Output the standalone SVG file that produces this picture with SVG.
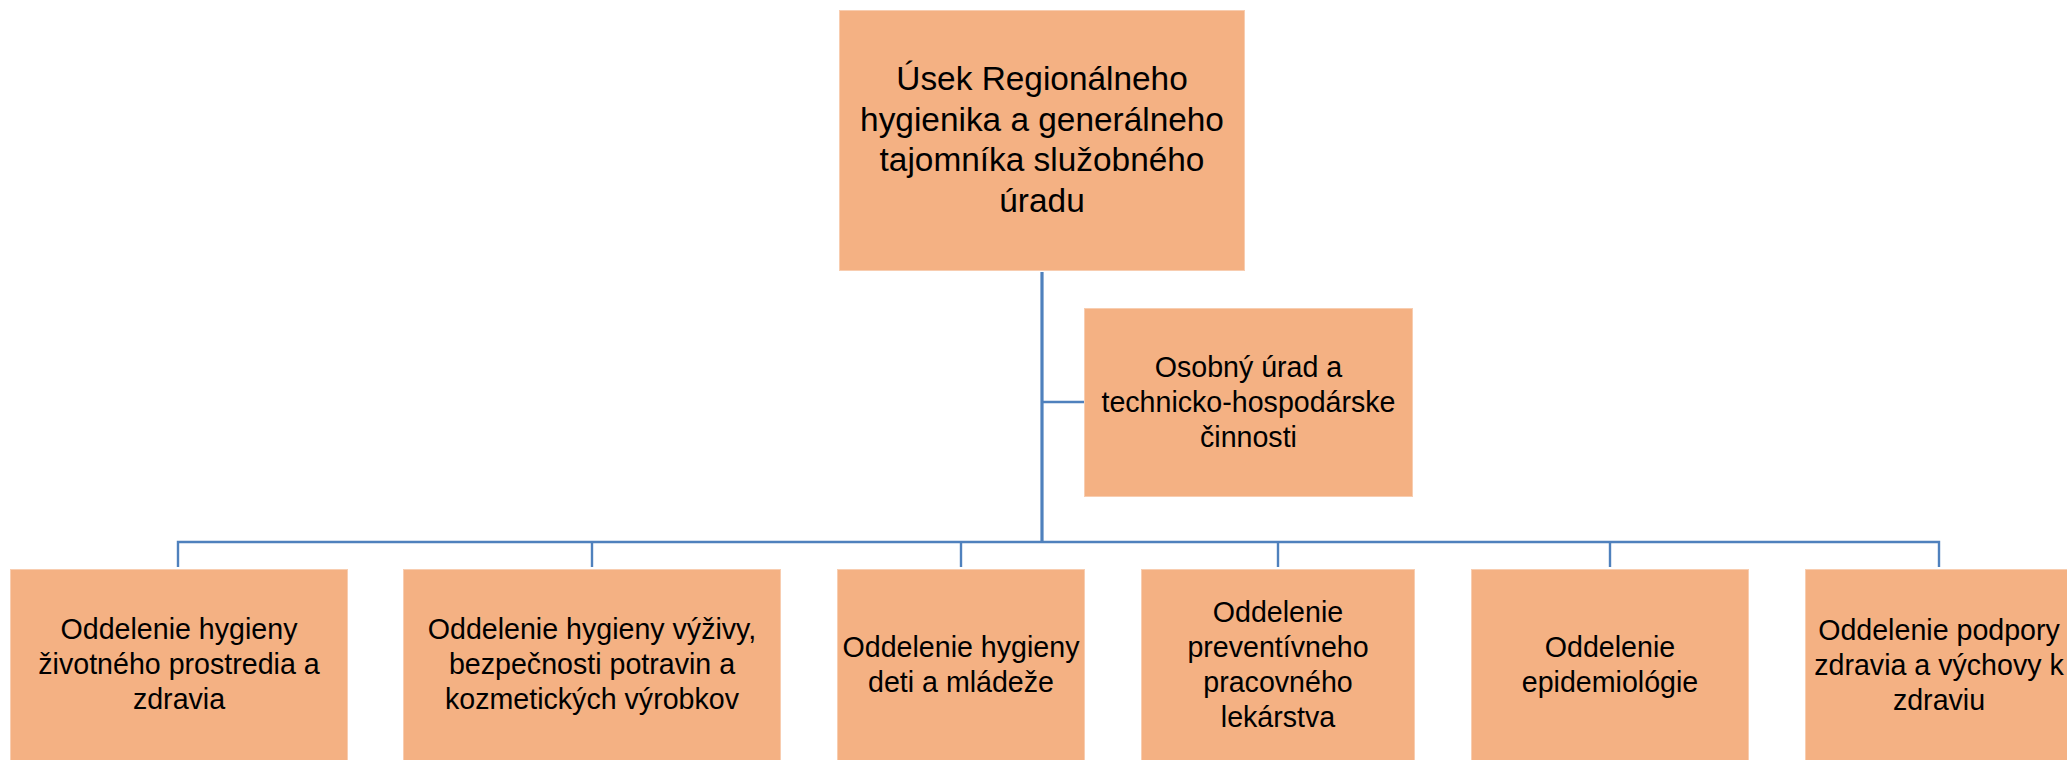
<svg xmlns="http://www.w3.org/2000/svg" width="2067" height="760" viewBox="0 0 2067 760">
<style>
.box{fill:#F4B183;stroke:#F8CDB0;stroke-width:1}
.t{font-family:"Liberation Sans",Arial,sans-serif;font-size:28.6px;fill:#000;text-anchor:middle}
.tt{font-family:"Liberation Sans",Arial,sans-serif;font-size:33.4px;fill:#000;text-anchor:middle}
.c{fill:none;stroke:#4F81BD;stroke-width:2.4;stroke-linejoin:miter}
.cm{fill:none;stroke:#4F81BD;stroke-width:3.2}
</style>
<rect width="2067" height="760" fill="#ffffff"/>
<g id="connectors">
<line class="cm" x1="1042" y1="272" x2="1042" y2="543"/>
<line class="c" x1="1042" y1="402" x2="1084" y2="402"/>
<polyline class="c" points="178,567 178,542 1939,542 1939,567"/>
<line class="c" x1="592" y1="542" x2="592" y2="567"/>
<line class="c" x1="961" y1="542" x2="961" y2="567"/>
<line class="c" x1="1278" y1="542" x2="1278" y2="567"/>
<line class="c" x1="1610" y1="542" x2="1610" y2="567"/>
</g>
<g id="n_top">
<rect class="box" x="839.5" y="10.5" width="405" height="260"/>
<text class="tt" x="1042" y="90">Úsek Regionálneho</text>
<text class="tt" x="1042" y="130.5">hygienika a generálneho</text>
<text class="tt" x="1042" y="171">tajomníka služobného</text>
<text class="tt" x="1042" y="211.5">úradu</text>
</g>
<g id="n_osobny">
<rect class="box" x="1084.5" y="308.5" width="328" height="188"/>
<text class="t" x="1248.5" y="377">Osobný úrad a</text>
<text class="t" x="1248.5" y="412">technicko-hospodárske</text>
<text class="t" x="1248.5" y="447">činnosti</text>
</g>
<g id="n_zivotne">
<rect class="box" x="10.5" y="569.5" width="337" height="195"/>
<text class="t" x="179" y="639">Oddelenie hygieny</text>
<text class="t" x="179" y="674">životného prostredia a</text>
<text class="t" x="179" y="709">zdravia</text>
</g>
<g id="n_vyziva">
<rect class="box" x="403.5" y="569.5" width="377" height="195"/>
<text class="t" x="592" y="639">Oddelenie hygieny výživy,</text>
<text class="t" x="592" y="674">bezpečnosti potravin a</text>
<text class="t" x="592" y="709">kozmetických výrobkov</text>
</g>
<g id="n_deti">
<rect class="box" x="837.5" y="569.5" width="247" height="195"/>
<text class="t" x="961" y="656.5">Oddelenie hygieny</text>
<text class="t" x="961" y="691.5">deti a mládeže</text>
</g>
<g id="n_prevent">
<rect class="box" x="1141.5" y="569.5" width="273" height="195"/>
<text class="t" x="1278" y="622">Oddelenie</text>
<text class="t" x="1278" y="657">preventívneho</text>
<text class="t" x="1278" y="692">pracovného</text>
<text class="t" x="1278" y="727">lekárstva</text>
</g>
<g id="n_epid">
<rect class="box" x="1471.5" y="569.5" width="277" height="195"/>
<text class="t" x="1610" y="656.5">Oddelenie</text>
<text class="t" x="1610" y="691.5">epidemiológie</text>
</g>
<g id="n_podpora">
<rect class="box" x="1805.5" y="569.5" width="270" height="195"/>
<text class="t" x="1939" y="640">Oddelenie podpory</text>
<text class="t" x="1939" y="675">zdravia a výchovy k</text>
<text class="t" x="1939" y="710">zdraviu</text>
</g>
</svg>
